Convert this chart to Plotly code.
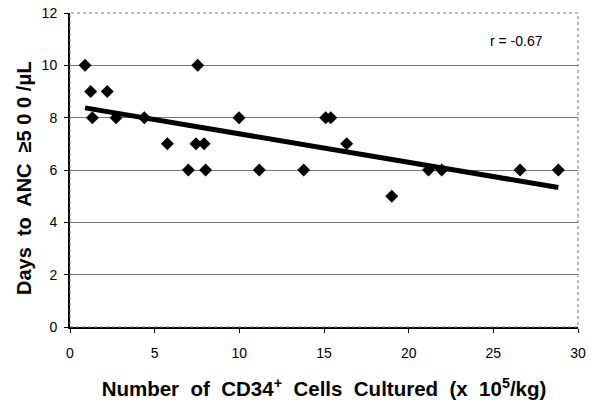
import numpy as np
import plotly.graph_objects as go

cd34_cells = [0.89, 7.54, 1.22, 2.2, 1.32, 2.72, 4.39, 9.98, 15.1, 15.4,
              5.75, 7.44, 7.92, 16.34, 6.99, 8.01, 11.18, 13.8, 21.17, 21.95,
              26.58, 28.84, 19.0]
days_to_anc = [10, 10, 9, 9, 8, 8, 8, 8, 8, 8,
               7, 7, 7, 7, 6, 6, 6, 6, 6, 6,
               6, 6, 5]
x_ticks = [0, 5, 10, 15, 20, 25, 30]
y_ticks = [0, 2, 4, 6, 8, 10, 12]

slope, intercept = np.polyfit(cd34_cells, days_to_anc, 1)
trend_x = [min(cd34_cells), max(cd34_cells)]
trend_y = [slope * v + intercept for v in trend_x]

NB = "\u00a0"
x_title = ("<b>Number" + NB + " of" + NB + " CD34<sup>+</sup>" + NB + " Cells" + NB +
           " Cultured" + NB + " (x" + NB + " 10<sup>5</sup>/kg)</b>")
y_title = "<b>Days" + NB + " to" + NB + " ANC" + NB + " ≥5 0 0 /μL</b>"

fig = go.Figure()
fig.add_trace(go.Scatter(x=trend_x, y=trend_y, mode="lines",
                         line=dict(color="black", width=5), hoverinfo="skip"))
fig.add_trace(go.Scatter(x=cd34_cells, y=days_to_anc, mode="markers",
                         marker=dict(symbol="diamond", size=10, color="black")))

fig.update_layout(
    width=601, height=405,
    margin=dict(l=70, r=23, t=13, b=78),
    paper_bgcolor="white", plot_bgcolor="white",
    showlegend=False,
    font=dict(family="Liberation Sans, Arial", color="black", size=14),
    xaxis=dict(range=[0, 30], tickvals=x_ticks, showgrid=False, zeroline=False,
               automargin=False,
               showline=True, linecolor="black", linewidth=2,
               ticks="outside", ticklen=4, tickcolor="black",
               ticklabelstandoff=8,
               title=dict(text=x_title, font=dict(size=20.5), standoff=22)),
    yaxis=dict(range=[0, 12], tickvals=y_ticks, showgrid=True, gridcolor="#777",
               gridwidth=1, zeroline=False, automargin=False,
               showline=True, linecolor="black", linewidth=2,
               ticks="outside", ticklen=4, tickcolor="black",
               ticklabelstandoff=4),
)
fig.add_shape(type="rect", xref="paper", yref="paper", x0=0, y0=0, x1=1, y1=1,
              line=dict(color="#777", width=1, dash="dot"))
fig.add_annotation(x=-0.0906, y=0.4745, xref="paper", yref="paper", text=y_title,
                   textangle=-90, showarrow=False, xanchor="center", yanchor="middle",
                   font=dict(size=20))
fig.add_annotation(x=0.935, y=0.911, xref="paper", yref="paper", text="r = -0.67",
                   showarrow=False, xanchor="right", yanchor="middle", font=dict(size=14))

fig.write_html("out.html", config={"displayModeBar": False},
               post_script="document.body.style.margin='0';")
